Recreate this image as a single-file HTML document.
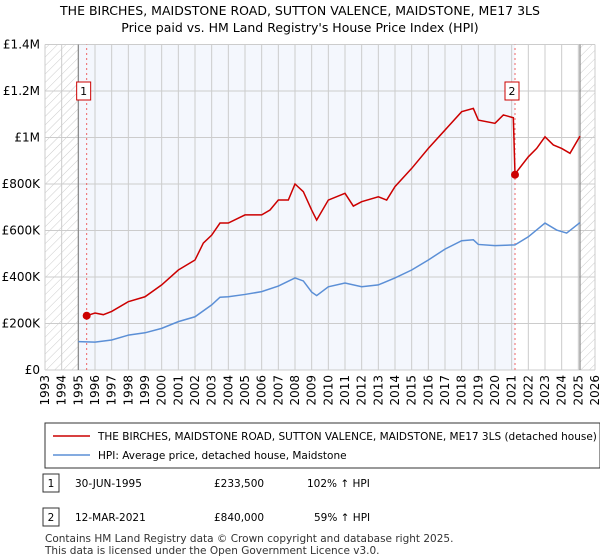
<!DOCTYPE html>
<html><head><meta charset="utf-8"><style>
body{margin:0;background:#fff;font-family:"Liberation Sans","DejaVu Sans",sans-serif;}
svg{display:block}
</style></head><body>
<svg id="c" width="600" height="560" font-family="DejaVu Sans, Liberation Sans, sans-serif">
<defs><pattern id="hatch" width="6" height="6" patternUnits="userSpaceOnUse" patternTransform="rotate(45)"><line x1="0" y1="0" x2="0" y2="6" stroke="#ccc" stroke-width="1"/></pattern></defs>
<text x="300" y="15" text-anchor="middle" font-size="12.5">THE BIRCHES, MAIDSTONE ROAD, SUTTON VALENCE, MAIDSTONE, ME17 3LS</text>
<text x="300" y="32" text-anchor="middle" font-size="12.5">Price paid vs. HM Land Registry's House Price Index (HPI)</text>
<g id="plot"></g>
<rect x="45" y="423" width="555" height="45" fill="#fff" stroke="#333"/>
<line x1="53" y1="436" x2="90" y2="436" stroke="#cc0000" stroke-width="1.5"/>
<text x="98" y="440" font-size="10.5">THE BIRCHES, MAIDSTONE ROAD, SUTTON VALENCE, MAIDSTONE, ME17 3LS (detached house)</text>
<line x1="53" y1="455" x2="90" y2="455" stroke="#5b8fd6" stroke-width="1.5"/>
<text x="98" y="459" font-size="10.5">HPI: Average price, detached house, Maidstone</text>
<rect x="43" y="474" width="16" height="18" fill="#fff" stroke="#333"/>
<text x="51" y="487" text-anchor="middle" font-size="10.5">1</text>
<text x="75" y="487" font-size="10.5">30-JUN-1995</text>
<text x="214" y="487" font-size="10.5">£233,500</text>
<text x="307" y="487" font-size="10.5">102% ↑ HPI</text>
<rect x="43" y="508" width="16" height="18" fill="#fff" stroke="#333"/>
<text x="51" y="521" text-anchor="middle" font-size="10.5">2</text>
<text x="75" y="521" font-size="10.5">12-MAR-2021</text>
<text x="214" y="521" font-size="10.5">£840,000</text>
<text x="314" y="521" font-size="10.5">59% ↑ HPI</text>
<text x="45" y="542" font-size="10.5" fill="#333">Contains HM Land Registry data © Crown copyright and database right 2025.</text>
<text x="45" y="554" font-size="10.5" fill="#333">This data is licensed under the Open Government Licence v3.0.</text>
</svg>
<script>
const yearTicks=[1993,1994,1995,1996,1997,1998,1999,2000,2001,2002,2003,2004,2005,2006,2007,2008,2009,2010,2011,2012,2013,2014,2015,2016,2017,2018,2019,2020,2021,2022,2023,2024,2025,2026];
const valueTicks=[0,200000,400000,600000,800000,1000000,1200000,1400000];
const valueTickLabels=["£0","£200K","£400K","£600K","£800K","£1M","£1.2M","£1.4M"];
const hpiYears=[1995,1996,1997,1998,1999,2000,2001,2002,2003,2003.5,2004,2005,2006,2007,2008,2008.5,2009,2009.3,2010,2011,2012,2013,2014,2015,2016,2017,2018,2018.7,2019,2020,2021.2,2022,2023,2023.7,2024.3,2025.1];
const hpiValues=[122000,120000,129000,150000,160000,179000,208000,229000,280000,313000,315000,325000,337000,361000,396000,383000,335000,320000,358000,374000,358000,366000,396000,430000,473000,520000,556000,560000,540000,535000,538000,573000,632000,602000,589000,634000];
const propYears=[1995.5,1996,1996.5,1997,1998,1999,2000,2001,2002,2002.5,2003,2003.5,2004,2005,2006,2006.5,2007,2007.6,2008,2008.5,2009,2009.3,2010,2011,2011.5,2012,2013,2013.5,2014,2015,2016,2017,2018,2018.7,2019,2020,2020.5,2021.1,2021.2,2022,2022.5,2023,2023.5,2024,2024.5,2025.1];
const propValues=[233500,245000,238000,252000,294000,315000,366000,430000,473000,546000,580000,632000,632000,667000,667000,688000,731000,731000,800000,767000,688000,645000,731000,760000,705000,724000,745000,731000,789000,867000,953000,1032000,1111000,1125000,1075000,1061000,1097000,1085000,843000,917000,953000,1003000,968000,953000,932000,1006000];
const sales=[{n:"1",year:1995.5,value:233500},{n:"2",year:2021.2,value:840000}];
const X=y=>45+(y-1993)*(550/33);
const Y=v=>370-v*(325.5/1400000);
const NS="http://www.w3.org/2000/svg";
const g=document.getElementById('plot');
function mk(t,a,p){const e=document.createElementNS(NS,t);for(const k in a)e.setAttribute(k,a[k]);(p||g).appendChild(e);return e;}
const bg=mk('rect',{x:X(1993),y:Y(1400000),width:X(2026)-X(1993),height:Y(0)-Y(1400000),fill:'#fff'});


const sh=mk('rect',{x:X(1995),y:Y(1400000),width:X(sales[1].year)-X(1995),height:Y(0)-Y(1400000),fill:'#f4f7fd'});


const h1=mk('rect',{x:X(1993),y:Y(1400000),width:X(1995)-X(1993),height:Y(0)-Y(1400000),fill:'url(#hatch)'});


const h2=mk('rect',{x:X(2025.1),y:Y(1400000),width:X(2026)-X(2025.1),height:Y(0)-Y(1400000),fill:'url(#hatch)'});


yearTicks.forEach(yr=>{const l=mk('line',{x1:X(yr),x2:X(yr),y1:Y(0),y2:Y(1400000),stroke:'#ccc'});


const t=mk('text',{x:0,y:0,'font-size':12,'text-anchor':'end',transform:`translate(${X(yr)+4},375) rotate(-90)`});t.textContent=yr;

});
valueTicks.forEach((v,i)=>{const l=mk('line',{x1:X(1993),x2:X(2026),y1:Y(v),y2:Y(v),stroke:'#ccc'});


const t=mk('text',{x:40,y:Y(v)+4,'font-size':12,'text-anchor':'end'});t.textContent=valueTickLabels[i];

});
[1995,2025.1].forEach(yr=>{const l=mk('line',{x1:X(yr),x2:X(yr),y1:Y(0),y2:Y(1400000),stroke:'#888','stroke-width':1.2});

});
sales.forEach(s=>{const l=mk('line',{x1:X(s.year),x2:X(s.year),y1:Y(0),y2:Y(1400000),stroke:'#e66','stroke-dasharray':'2,3'});

});
const hp=mk('polyline',{points:hpiYears.map((y,i)=>X(y)+','+Y(hpiValues[i])).join(' '),fill:'none',stroke:'#5b8fd6','stroke-width':1.5});


const pp=mk('polyline',{points:propYears.map((y,i)=>X(y)+','+Y(propValues[i])).join(' '),fill:'none',stroke:'#cc0000','stroke-width':1.5});


sales.forEach(s=>{const c=mk('circle',{cx:X(s.year),cy:Y(s.value),r:4,fill:'#cc0000'});


const b=mk('rect',{x:X(s.year)-10,y:Y(1200000)-9,width:14,height:18,fill:'#fff',stroke:'#cc0000'});


const t=mk('text',{x:X(s.year)-3,y:Y(1200000)+4,'font-size':11,'text-anchor':'middle'});t.textContent=s.n;

});
</script>
</body></html>
